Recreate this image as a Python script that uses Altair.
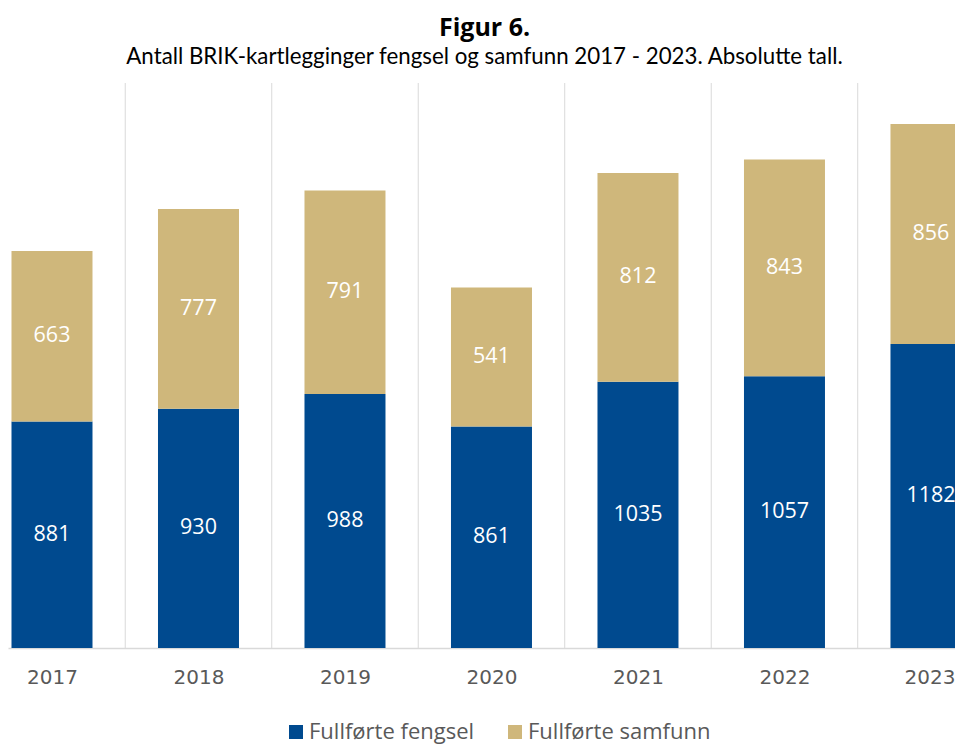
import altair as alt
import pandas as pd

years = [2017, 2018, 2019, 2020, 2021, 2022, 2023]
series = ["Fullførte fengsel", "Fullførte samfunn"]
fengsel = [881, 930, 988, 861, 1035, 1057, 1182]
samfunn = [663, 777, 791, 541, 812, 843, 856]

BLUE = "#004A8F"
TAN = "#CFB77B"

rows = []
for i, y in enumerate(years):
    rows.append({"year": y, "series": series[0], "value": fengsel[i], "ord": 0})
    rows.append({"year": y, "series": series[1], "value": samfunn[i], "ord": 1})
df = pd.DataFrame(rows)
grid_df = pd.DataFrame({"g": [y + 0.5 for y in years[:-1]]})

xscale = alt.Scale(domain=[2016.6997, 2023.164], nice=False, zero=False, padding=0)
yscale = alt.Scale(domain=[0, 2197], nice=False)
xaxis = alt.Axis(values=years, format="d", title=None, grid=False, ticks=False,
                 domain=True, domainColor="#D9D9D9", domainWidth=1.5,
                 labelFontSize=20, labelFont="DejaVu Sans", labelColor="#595959",
                 labelPadding=19, labelFlush=30, labelFlushOffset=24)

grid = alt.Chart(grid_df).mark_rule(color="#D9D9D9", strokeWidth=1).encode(
    x=alt.X("g:Q", scale=xscale, axis=xaxis)
)

bars = alt.Chart(df).mark_bar(size=81).encode(
    x=alt.X("year:Q", scale=xscale, axis=xaxis),
    y=alt.Y("value:Q", stack="zero", scale=yscale, axis=None),
    color=alt.Color("series:N", scale=alt.Scale(domain=series, range=[BLUE, TAN]),
                    legend=alt.Legend(title=None, orient="none", direction="horizontal",
                                      legendX=277, legendY=638,
                                      symbolType="square", symbolSize=196, symbolStrokeWidth=0,
                                      labelFontSize=22, labelFont="Open Sans", labelColor="#595959",
                                      labelLimit=400, columnPadding=29, symbolOffset=0,
                                      labelOffset=2)),
    order=alt.Order("ord:Q"),
)

labels = alt.Chart(df).transform_stack(
    stack="value", groupby=["year"], as_=["y0", "y1"], sort=[alt.SortField("ord")]
).transform_calculate(mid="(datum.y0 + datum.y1) / 2").mark_text(
    color="white", font="Open Sans", fontSize=21.5, baseline="middle", align="center"
).encode(
    x=alt.X("year:Q", scale=xscale, axis=xaxis),
    y=alt.Y("mid:Q", scale=yscale, axis=None),
    text=alt.Text("value:Q"),
)

chart = alt.layer(grid, bars, labels).properties(
    width=947, height=565,
    title=alt.TitleParams("Figur 6.",
                          subtitle="\u2003Antall BRIK-kartlegginger fengsel og samfunn 2017 - 2023. Absolutte tall.",
                          font="Open Sans", fontSize=25, fontWeight="bold", color="#000000",
                          subtitleFont="Lato", subtitleFontSize=22.3, subtitleColor="#000000",
                          anchor="middle", offset=14, subtitlePadding=5, dx=3),
    autosize=alt.AutoSizeParams(type="none"),
    padding={"left": 0, "top": 75, "right": 0, "bottom": 96},
).configure_view(strokeWidth=0)

chart.save("out.html", embed_options={"renderer": "svg", "actions": False})
